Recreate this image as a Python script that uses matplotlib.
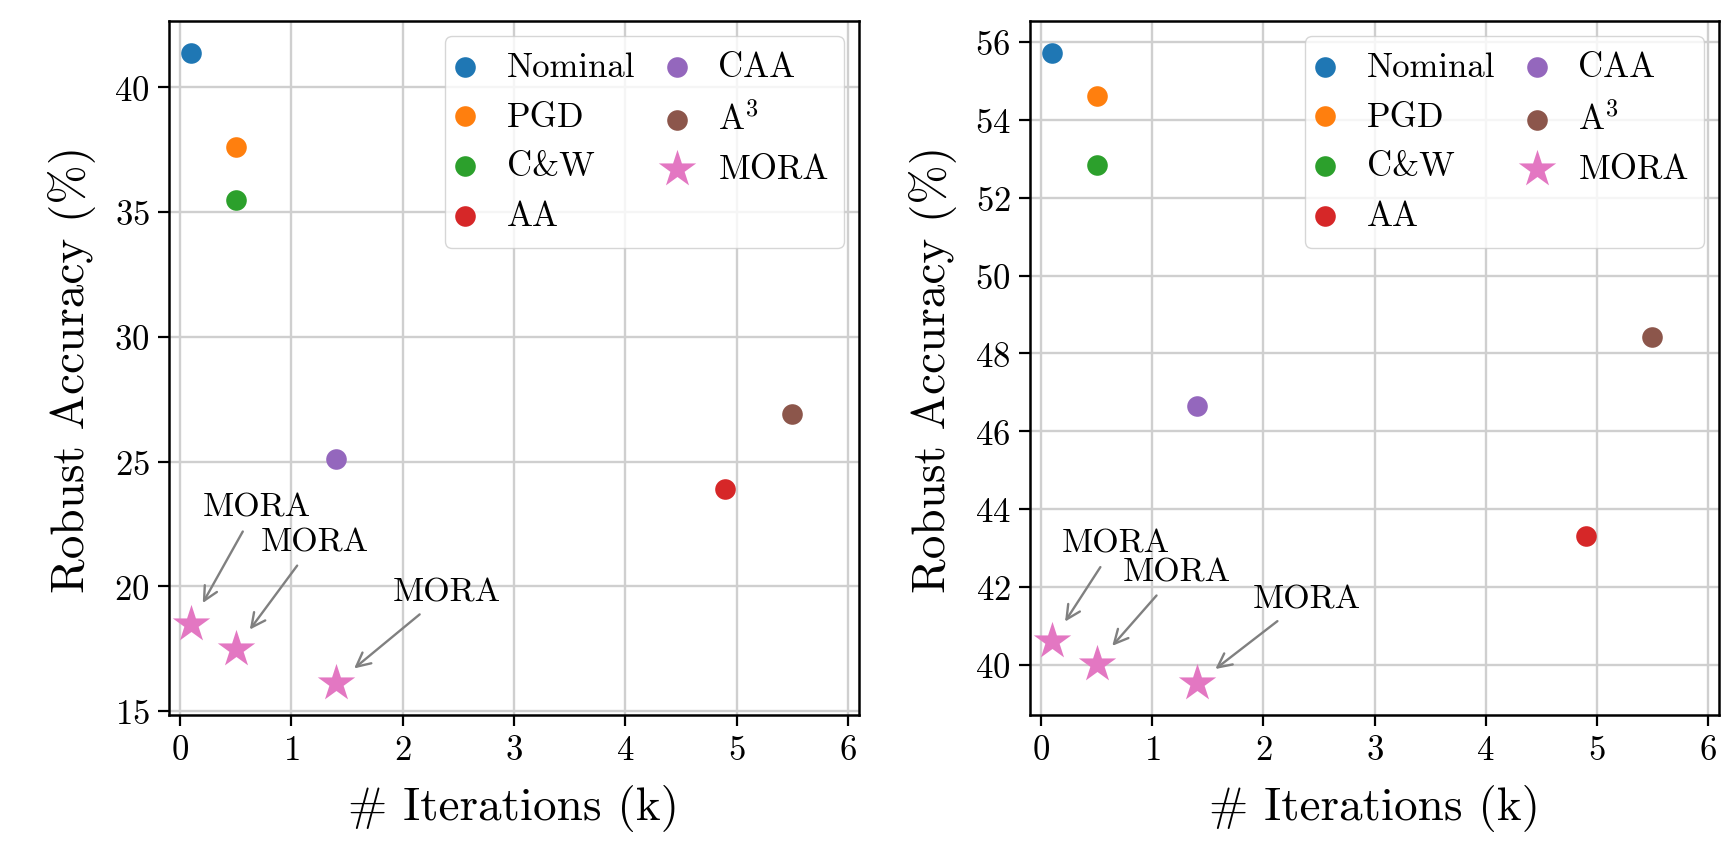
import matplotlib
matplotlib.use("Agg")
import matplotlib.pyplot as plt

plt.rcParams['font.family'] = 'serif'
plt.rcParams['font.serif'] = ['cmr10']
plt.rcParams['mathtext.fontset'] = 'cm'
plt.rcParams['axes.formatter.use_mathtext'] = True

# Métodos base (un punto por método) e iteraciones en miles
methods = ["Nominal", "PGD", "C&W", "AA", "CAA", "A$^3$"]
colors = ["tab:blue", "tab:orange", "tab:green", "tab:red", "tab:purple", "tab:brown"]
iters = [0.1, 0.5, 0.5, 4.9, 1.4, 5.5]

acc_left = [41.4, 37.6, 35.5, 23.9, 25.1, 26.9]
acc_right = [55.73, 54.62, 52.84, 43.3, 46.65, 48.42]

# MORA con distintas cantidades de iteraciones
mora_iters = [0.1, 0.5, 1.4]
mora_left = [18.5, 17.5, 16.1]
mora_right = [40.6, 40.03, 39.52]

# desplazamiento del texto de cada anotación (puntos)
offsets_left = [(47, 84), (57, 77), (80, 66)]
offsets_right = [(46, 71), (58, 66), (79, 61)]

fig = plt.figure(figsize=(17.21, 8.53), dpi=100)
ax1 = fig.add_axes([169 / 1721, 1 - 716 / 853, 690 / 1721, 694 / 853])
ax2 = fig.add_axes([1030 / 1721, 1 - 716 / 853, 689 / 1721, 694 / 853])


def dibujar(ax, acc, mora, offsets):
    for m, c, x, y in zip(methods, colors, iters, acc):
        ax.scatter(x, y, color=c, s=220, label=m, zorder=3, linewidths=0)
    ax.scatter(mora_iters, mora, color="tab:pink", marker="*", s=800,
               label="MORA", zorder=3, linewidths=0)
    for x, y, off in zip(mora_iters, mora, offsets):
        ax.annotate("MORA", xy=(x, y), xytext=off, textcoords="offset points",
                    ha="center", va="center", fontsize=24.5,
                    arrowprops=dict(arrowstyle="->", color="gray", lw=1.7,
                                    shrinkA=6, shrinkB=17, mutation_scale=25))
    ax.set_xlim(-0.1, 6.1)
    ax.set_xticks(range(7))
    ax.grid(True, color="#cfcfcf", linewidth=1.7)
    ax.set_axisbelow(True)
    ax.tick_params(labelsize=25, length=8, width=1.6, pad=6)
    for s in ax.spines.values():
        s.set_linewidth(1.8)
    ax.set_xlabel("# Iterations (k)", fontsize=34, labelpad=13)
    ax.set_ylabel("Robust Accuracy (%)", fontsize=34, labelpad=13)
    ax.legend(ncol=2, loc="upper right", fontsize=25, handlelength=0.25,
              handletextpad=1.07, columnspacing=1.07, borderpad=0.45,
              labelspacing=0.52, edgecolor="#cccccc", borderaxespad=0.42)


dibujar(ax1, acc_left, mora_left, offsets_left)
dibujar(ax2, acc_right, mora_right, offsets_right)
ax2.set_yticks(range(40, 57, 2))

fig.savefig("out.png", dpi=100)
